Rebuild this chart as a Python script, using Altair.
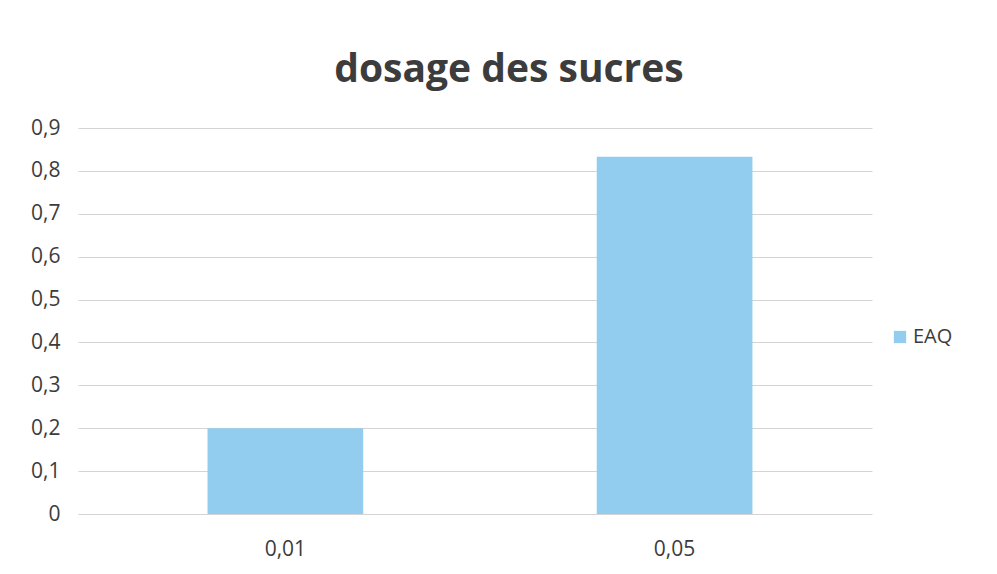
import altair as alt
import pandas as pd

# Sugar assay: absorbance-like values per concentration
concentrations = ["0,01", "0,05"]
values = [0.2, 0.833]
series = ["EAQ", "EAQ"]

df = pd.DataFrame({"conc": concentrations, "val": values, "serie": series})

bar_color = "#92ccef"
text_color = "#3c3c3c"
font = "Open Sans"

chart = (
    alt.Chart(df)
    .mark_bar(color=bar_color)
    .encode(
        x=alt.X(
            "conc:N",
            sort=concentrations,
            title=None,
            scale=alt.Scale(paddingInner=0.6, paddingOuter=0.32, align=0.52),
            axis=alt.Axis(
                labelAngle=0,
                labelFontSize=21,
                labelColor=text_color,
                labelFont=font,
                labelPadding=24,
                labelBaseline="top",
                ticks=False,
                domain=False,
            ),
        ),
        y=alt.Y(
            "val:Q",
            title=None,
            scale=alt.Scale(domain=[0, 0.9], nice=False),
            axis=alt.Axis(
                values=[0, 0.1, 0.2, 0.3, 0.4, 0.5, 0.6, 0.7, 0.8, 0.9],
                labelExpr="replace(format(datum.value, '.1~f'), '.', ',')",
                labelFontSize=21,
                labelColor=text_color,
                labelFont=font,
                labelPadding=18,
                ticks=False,
                domain=False,
                gridColor="#d4d4d4",
                gridWidth=1,
            ),
        ),
        fill=alt.Fill(
            "serie:N",
            scale=alt.Scale(range=[bar_color]),
            legend=alt.Legend(
                title=None,
                orient="none",
                legendX=812,
                legendY=199,
                symbolType="square",
                symbolSize=150,
                symbolStrokeWidth=0,
                labelFontSize=20,
                labelColor=text_color,
                labelFont=font,
                labelOffset=3,
            ),
        ),
    )
    .properties(
        width=794,
        height=386,
        title=alt.TitleParams(
            "dosage des sucres",
            fontSize=39,
            font=font,
            fontWeight="bold",
            color=text_color,
            anchor="middle",
            offset=27,
            dx=34,
        ),
        padding={"left": 78, "top": 128, "right": 125, "bottom": 60},
        autosize=alt.AutoSizeParams(type="none"),
        background="white",
    )
    .configure_view(stroke=None)
)

chart.save("out.html", embed_options={"renderer": "svg", "actions": False})
